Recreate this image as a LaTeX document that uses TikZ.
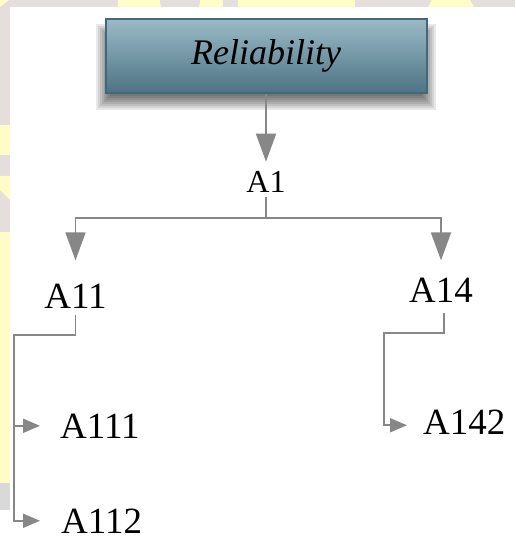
\documentclass[tikz,border=0pt]{standalone}
\usepackage{fontspec}
\setmainfont{Liberation Serif}[
  ItalicFont={Liberation Serif Italic},
  BoldFont={Liberation Serif Bold},
  BoldItalicFont={Liberation Serif Bold Italic}]
\usetikzlibrary{arrows.meta}

\definecolor{wmgray}{HTML}{E6DEDC}
\definecolor{wmyellow}{HTML}{FFFCC8}
\definecolor{wmshade}{HTML}{D9D9D9}
\definecolor{boxtop}{HTML}{9BBAC6}
\definecolor{boxbot}{HTML}{4E7385}
\definecolor{boxline}{HTML}{45677A}
\definecolor{conn}{HTML}{878787}

\tikzset{
  titlebox/.style={rectangle, draw=boxline, line width=2pt,
    top color=boxtop, bottom color=boxbot,
    minimum width=321pt, minimum height=74pt, inner sep=0pt,
    font=\fontsize{36}{40}\selectfont\itshape},
  toplbl/.style={inner sep=0pt, font=\fontsize{32}{36}\selectfont},
  lbl/.style={inner sep=0pt, font=\fontsize{37}{40}\selectfont},
  link/.style={draw=conn, line width=1.8pt},
  bigarr/.style={link, -{Triangle[width=20pt,length=28pt]}},
  smallarr/.style={link, -{Triangle[width=14pt,length=17pt]}},
}

\begin{document}
\begin{tikzpicture}[x=1pt,y=-1pt]
\useasboundingbox (0,0) rectangle (515,537);

% page background with the faint pattern along the top and left edges
\fill[wmgray] (0,0) rectangle (515,537);
\fill[wmyellow] (0,0) -- (9,0) -- (0,7) -- cycle;
\fill[wmyellow] (118,0) rectangle (223,7);
\fill[wmgray] (160,0) arc[start angle=180, end angle=0, radius=20];
\fill[wmyellow] (238,0) rectangle (355,7);
\fill[wmyellow] (432,0) -- (470,0) -- (474,7) -- (428,7) -- cycle;
\fill[wmyellow] (0,125) rectangle (10,155);
\fill[wmyellow] (0,176) -- (10,176) -- (10,200) -- (0,190) -- cycle;
\fill[wmyellow] (0,232) rectangle (10,483);
\fill[wmshade] (0,483) rectangle (10,510);
\fill[white] (0,510) rectangle (10,537);
\fill[white] (10,7) rectangle (515,537);

% soft shadow under the title box, built from stacked translucent layers
\foreach \i in {1,...,9}
  \fill[black, opacity=0.09] (114-2*\i,42-2*\i) rectangle (418+2*\i,92+2*\i);

% nodes
\node[titlebox] (rel) at (266,56) {Reliability};
\node[toplbl, anchor=base] (a1) at (266,193) {A1};
\node[lbl, anchor=base] (a11) at (75.5,308) {A11};
\node[lbl, anchor=base] (a14) at (441,302) {A14};
\node[lbl, anchor=base west] (a111) at (60,438) {A111};
\node[lbl, anchor=base west] (a112) at (61,533) {A112};
\node[lbl, anchor=base west] (a142) at (423,434) {A142};

% bends of the connectors
\coordinate (bus) at (0,218);
\coordinate (elbowL) at (14,335);
\coordinate (elbowR) at (384,333);

% connectors
\draw[bigarr, shorten >=10pt] (rel) -- (a1);
\draw[bigarr, shorten <=4pt, shorten >=23pt]
  (a1.south) -- (a1.south |- bus) -| (a11.north);
\draw[bigarr, shorten <=4pt, shorten >=17pt]
  (a1.south) -- (a1.south |- bus) -| (a14.north);
\draw[smallarr, shorten <=7pt, shorten >=20pt]
  (a11.south) -- (a11.south |- elbowL) -- (elbowL) |- (a111.west);
\draw[smallarr, shorten <=7pt, shorten >=21pt]
  (a11.south) -- (a11.south |- elbowL) -- (elbowL) |- (a112.west);
\draw[smallarr, shorten <=11pt, shorten >=16pt]
  ([xshift=3pt]a14.south) -- ([xshift=3pt]a14.south |- elbowR) -- (elbowR)
  |- ([yshift=-3.5pt]a142.west);
\end{tikzpicture}
\end{document}
